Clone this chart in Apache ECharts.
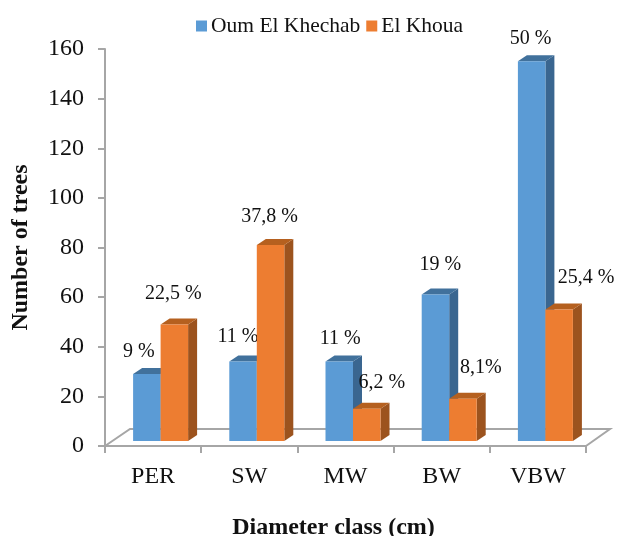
<!DOCTYPE html>
<html><head><meta charset="utf-8">
<style>html,body{margin:0;padding:0;background:#fff}#c{width:618px;height:536px}</style>
<script src="https://cdn.jsdelivr.net/npm/echarts@6/dist/echarts.min.js"></script>
</head><body><div id="c"></div>
<script>
var categories = ['PER','SW','MW','BW','VBW'];
var oumValues = [27,32,32,59,153];
var khouaValues = [47,79,13,17,53];
var oumLabels = ['9 %','11 %','11 %','19 %','50 %'];
var khouaLabels = ['22,5 %','37,8 %','6,2 %','8,1%','25,4 %'];

// layout-only constants
var FONT = '"Liberation Serif","Times New Roman",serif';
var BAR_W = 27.5, DX = 9, DY = 6, BASE_SHIFT = 5, X_SHIFT = 7.5;
var oumOffsets = [[-8,-22],[-5,-25],[1,-23],[5,-30],[-1,-23]];
var khouaOffsets = [[-1,-31],[-1,-28],[15,-26],[18,-31],[27,-32]];

function bar3d(sign, colors, labels, offsets){
  return function(params, api){
    var i = api.value(0), v = api.value(1);
    var cx = api.coord([i,0])[0] + X_SHIFT;
    var x0 = sign < 0 ? cx - BAR_W : cx, x1 = x0 + BAR_W;
    var yb = api.coord([i,0])[1] - BASE_SHIFT, yt = api.coord([i,v])[1] - BASE_SHIFT;
    var off = offsets[params.dataIndex];
    return {type:'group', children:[
      {type:'polygon', shape:{points:[[x1,yb],[x1+DX,yb-DY],[x1+DX,yt-DY],[x1,yt]]}, style:{fill:colors[2]}},
      {type:'polygon', shape:{points:[[x0,yt],[x0+DX,yt-DY],[x1+DX,yt-DY],[x1,yt]]}, style:{fill:colors[1]}},
      {type:'rect', shape:{x:x0,y:yt,width:BAR_W,height:yb-yt}, style:{fill:colors[0]}},
      {type:'text', z2:50, style:{x:(x0+x1)/2+off[0], y:yt+off[1], text:labels[params.dataIndex], align:'center', verticalAlign:'middle', font:'20px '+FONT, fill:'#111'}}
    ]};
  };
}
function floor(params, api){
  var a = api.coord([0,0]), n = categories.length;
  var b = api.coord([n-1,0]), band = api.size([1,0])[0];
  var xl = a[0]-band/2, xr = b[0]+band/2, y = a[1];
  var st = {stroke:'#a6a6a6', lineWidth:2, fill:null};
  return {type:'group', silent:true, children:[
    {type:'polyline', shape:{points:[[xl,y],[xl+25,y-17],[xr+24,y-17],[xr,y]]}, style:st}
  ]};
}
var chart = echarts.init(document.getElementById('c'), null, {renderer:'canvas'});
chart.setOption({
  animation:false,
  backgroundColor:'#fff',
  textStyle:{fontFamily:FONT},
  grid:{left:105,right:32,top:49,bottom:90,outerBoundsMode:'none',containLabel:false},
  legend:{
    data:['Oum El Khechab','El Khoua'], top:10, left:191, itemWidth:11, itemHeight:11, itemGap:6,
    icon:'rect', textStyle:{fontFamily:FONT,fontSize:21.5,color:'#111',padding:[0,0,0,-1]}
  },
  xAxis:{
    type:'category', data:categories, boundaryGap:true,
    name:'Diameter class (cm)', nameLocation:'middle', nameGap:70,
    nameTextStyle:{fontFamily:FONT,fontSize:24,fontWeight:'bold',color:'#111',padding:[0,24,0,0]},
    axisLine:{lineStyle:{color:'#a6a6a6',width:2}},
    axisTick:{show:true,alignWithLabel:false,length:7,lineStyle:{color:'#a6a6a6',width:2}},
    axisLabel:{fontFamily:FONT,fontSize:24,color:'#111',margin:19}
  },
  yAxis:{
    type:'value', min:0, max:160, interval:20,
    name:'Number of trees', nameLocation:'middle', nameGap:72,
    nameTextStyle:{fontFamily:FONT,fontSize:24,fontWeight:'bold',color:'#111'},
    axisLine:{show:true,lineStyle:{color:'#a6a6a6',width:2}},
    axisTick:{show:true,length:7,lineStyle:{color:'#a6a6a6',width:2}},
    splitLine:{show:false},
    axisLabel:{fontFamily:FONT,fontSize:24,color:'#111',margin:21,padding:[4,0,0,0]}
  },
  series:[
    {type:'custom',name:'floor',z:1,renderItem:floor,data:[[0,0]],silent:true,clip:false},
    {type:'custom',name:'Oum El Khechab',z:2,clip:false,itemStyle:{color:'#5B9BD5'},
     renderItem:bar3d(-1,['#5B9BD5','#41719C','#3A6690'],oumLabels,oumOffsets),
     data:oumValues.map(function(v,i){return [i,v];})},
    {type:'custom',name:'El Khoua',z:3,clip:false,itemStyle:{color:'#ED7D31'},
     renderItem:bar3d(1,['#ED7D31','#B5601F','#9C531E'],khouaLabels,khouaOffsets),
     data:khouaValues.map(function(v,i){return [i,v];})}
  ]
});
</script></body></html>
